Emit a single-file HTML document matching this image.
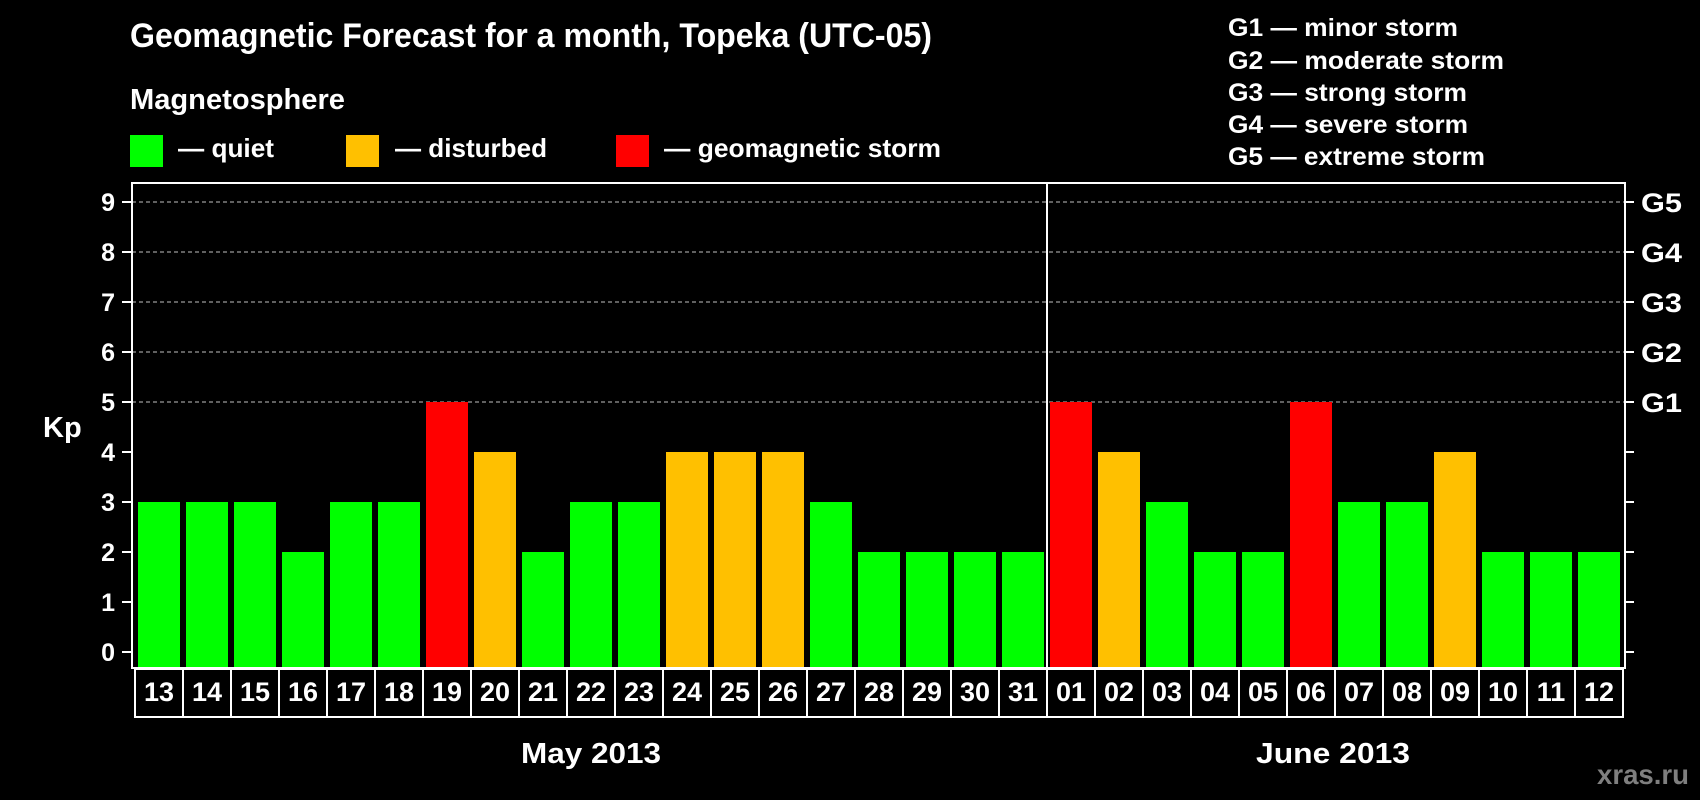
<!DOCTYPE html>
<html><head><meta charset="utf-8"><style>
html,body{margin:0;padding:0;background:#000;}
svg{display:block;font-family:"Liberation Sans",Arial,sans-serif;font-weight:bold;}
</style></head><body>
<svg id="chart" width="1700" height="800" viewBox="0 0 1700 800">
<text x="130" y="47" fill="#fff" font-size="34" textLength="802" lengthAdjust="spacingAndGlyphs">Geomagnetic Forecast for a month, Topeka (UTC-05)</text>
<text x="130" y="109" fill="#fff" font-size="29" textLength="215" lengthAdjust="spacingAndGlyphs">Magnetosphere</text>
<rect x="130" y="135" width="33" height="32" fill="#00ff00"/>
<text x="178" y="157" fill="#fff" font-size="26" textLength="96" lengthAdjust="spacingAndGlyphs">— quiet</text>
<rect x="346" y="135" width="33" height="32" fill="#ffc000"/>
<text x="395" y="157" fill="#fff" font-size="26" textLength="152" lengthAdjust="spacingAndGlyphs">— disturbed</text>
<rect x="616" y="135" width="33" height="32" fill="#ff0000"/>
<text x="664" y="157" fill="#fff" font-size="26" textLength="277" lengthAdjust="spacingAndGlyphs">— geomagnetic storm</text>
<g fill="#fff" font-size="25">
<text x="1228" y="36" textLength="230" lengthAdjust="spacingAndGlyphs">G1 — minor storm</text>
<text x="1228" y="69" textLength="276" lengthAdjust="spacingAndGlyphs">G2 — moderate storm</text>
<text x="1228" y="101" textLength="239" lengthAdjust="spacingAndGlyphs">G3 — strong storm</text>
<text x="1228" y="133" textLength="240" lengthAdjust="spacingAndGlyphs">G4 — severe storm</text>
<text x="1228" y="165" textLength="257" lengthAdjust="spacingAndGlyphs">G5 — extreme storm</text>
</g>
<text x="43" y="437" fill="#fff" font-size="29">Kp</text>
<g id="grid"></g>
<g id="bars"></g>
<rect x="132" y="183" width="1493" height="485" fill="none" stroke="#fff" stroke-width="2"/>
<line x1="1047" y1="183" x2="1047" y2="717" stroke="#fff" stroke-width="2"/>
<g id="axes"></g>
<text x="591" y="763" fill="#fff" font-size="29" text-anchor="middle" textLength="140" lengthAdjust="spacingAndGlyphs">May 2013</text>
<text x="1333" y="763" fill="#fff" font-size="29" text-anchor="middle" textLength="154" lengthAdjust="spacingAndGlyphs">June 2013</text>
<text x="1689" y="784" fill="#7f7f7f" font-size="28" text-anchor="end" textLength="92" lengthAdjust="spacingAndGlyphs">xras.ru</text>
</svg>
<script>
const days = ["13","14","15","16","17","18","19","20","21","22","23","24","25","26","27","28","29","30","31","01","02","03","04","05","06","07","08","09","10","11","12"];
const kpValues = [3,3,3,2,3,3,5,4,2,3,3,4,4,4,3,2,2,2,2,5,4,3,2,2,5,3,3,4,2,2,2];
const yTicks = [0,1,2,3,4,5,6,7,8,9];
const gLabels = ["","","","","","G1","G2","G3","G4","G5"];
const NS = "http://www.w3.org/2000/svg";
const y = v => 652 - v * 50;
const xCell = i => 135 + i * 48;
const color = v => v >= 5 ? "#ff0000" : (v === 4 ? "#ffc000" : "#00ff00");
function mk(tag, attrs, parent){const e=document.createElementNS(NS,tag);for(const k in attrs)e.setAttribute(k,attrs[k]);parent.appendChild(e);return e;}
const grid=document.getElementById("grid"), bars=document.getElementById("bars"), axes=document.getElementById("axes");
yTicks.forEach((t,i)=>{
  if(t>=5){const l=mk("line",{x1:132,x2:1625,y1:y(t),y2:y(t),stroke:"#999","stroke-width":1.2,"stroke-dasharray":"4,3"},grid);
  
  }
  const tl=mk("line",{x1:122,x2:132,y1:y(t),y2:y(t),stroke:"#fff","stroke-width":2},axes);
  
  
  const tr=mk("line",{x1:1625,x2:1634,y1:y(t),y2:y(t),stroke:"#fff","stroke-width":2},axes);
  
  
  const tx=mk("text",{x:115,y:y(t)+9,fill:"#fff","font-size":25,"text-anchor":"end"},axes);
  tx.textContent=t;
  
  
  if(gLabels[i]){const g=mk("text",{x:1641,y:y(t)+10,fill:"#fff","font-size":27,"textLength":41,"lengthAdjust":"spacingAndGlyphs"},axes);
  g.textContent=gLabels[i];
  
  }
});
kpValues.forEach((v,i)=>{
  const r=mk("rect",{x:xCell(i)+3,y:y(v),width:42,height:667-y(v),fill:color(v)},bars);
  
  
  const c=mk("rect",{x:xCell(i),y:669,width:48,height:48,fill:"none",stroke:"#fff","stroke-width":2},axes);
  
  
  const t=mk("text",{x:xCell(i)+24,y:701,fill:"#fff","font-size":27,"text-anchor":"middle"},axes);
  t.textContent=days[i];
  
  
});
</script>
</body></html>
